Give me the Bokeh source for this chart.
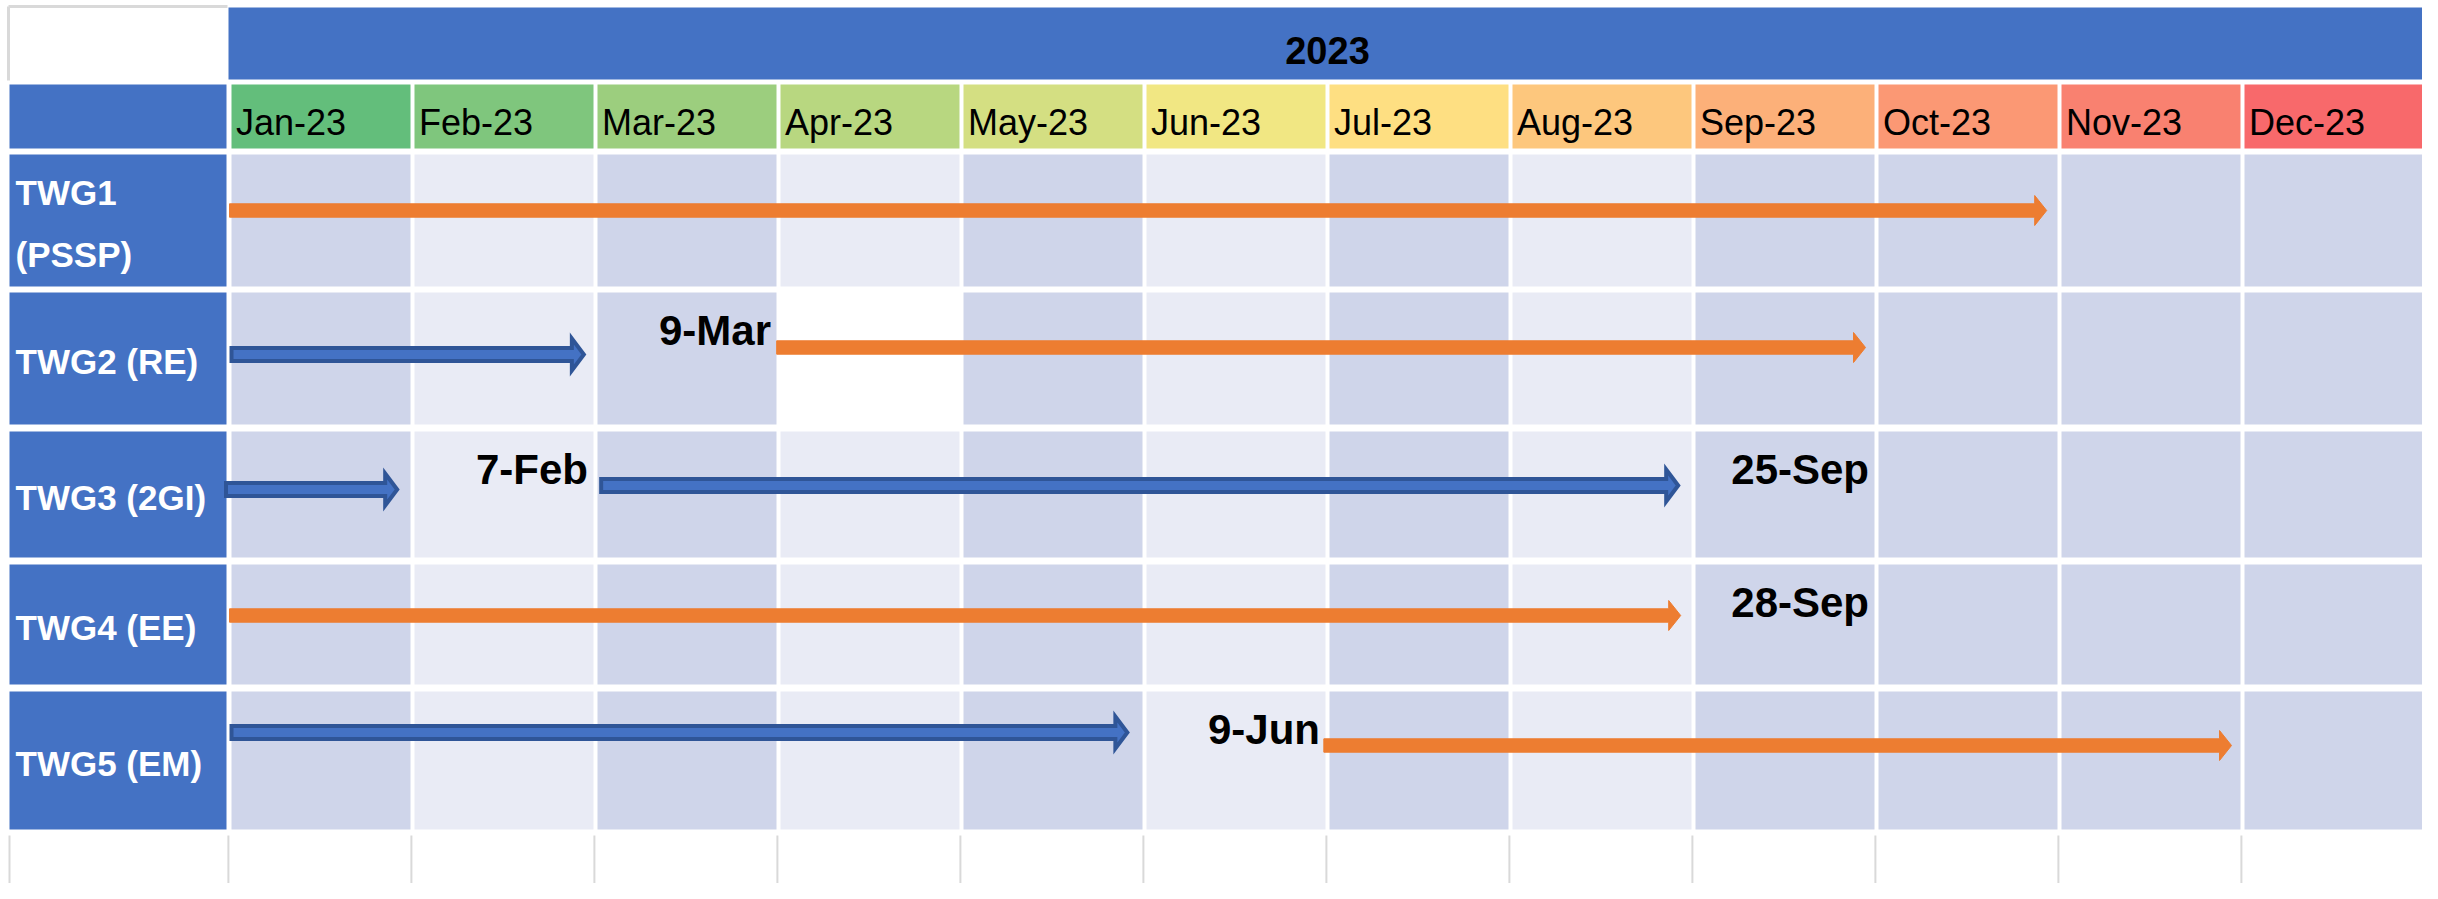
from bokeh.plotting import figure
from bokeh.models import Range1d
from bokeh.core.properties import value
from bokeh.embed import file_html
from bokeh.resources import INLINE

# ---------------- data ----------------
YEAR_LABEL = "2023"
MONTH_LABELS = ["Jan-23", "Feb-23", "Mar-23", "Apr-23", "May-23", "Jun-23",
                "Jul-23", "Aug-23", "Sep-23", "Oct-23", "Nov-23", "Dec-23"]
GROUP_LABELS = ["TWG1\n(PSSP)", "TWG2 (RE)", "TWG3 (2GI)", "TWG4 (EE)", "TWG5 (EM)"]

# arrows, in months from 1 Jan 2023 (0) to 31 Dec 2023 (12)
ARROW_GROUP = [0, 1, 1, 2, 2, 3, 4, 4]
ARROW_START = [0.0, 0.0, 2.99, -0.03, 2.02, 0.0, 0.0, 5.98]
ARROW_END = [9.93, 1.95, 8.94, 0.93, 7.93, 7.93, 4.92, 10.94]
ARROW_KIND = ["orange", "blue", "orange", "blue", "blue", "orange", "blue", "orange"]

# milestone date labels (written in the cell of the given month)
MILESTONE_TEXT = ["9-Mar", "7-Feb", "25-Sep", "28-Sep", "9-Jun"]
MILESTONE_GROUP = [1, 2, 2, 3, 4]
MILESTONE_MONTH = [2, 1, 8, 8, 5]

# ---------------- layout / style ----------------
W, H = 2422, 883
PX0 = 229.0     # picture x where January starts
MW = 183.0      # pixels per month
ROW_TOP = [154, 292, 431, 564, 691]
ROW_BOT = [286, 424, 557, 684, 829]
ARROW_Y = [210, 354, 347, 489, 485, 615, 732, 745]

BLUE = "#4472C4"
DARK_BLUE = "#2F5597"
ORANGE = "#ED7D31"
CELL_DARK = "#CFD5EA"
CELL_LIGHT = "#E9EBF5"
GRID_GRAY = "#D9D9D9"
MONTH_COLORS = ["#63BE7B", "#7FC67D", "#9CCE7E", "#B8D780", "#D4DF82", "#F1E783",
                "#FEDF82", "#FDC77D", "#FCB079", "#FB9874", "#F98170", "#F8696B"]
COL_SHADE = [CELL_DARK, CELL_LIGHT, CELL_DARK, CELL_LIGHT, CELL_DARK, CELL_LIGHT,
             CELL_DARK, CELL_LIGHT, CELL_DARK, CELL_DARK, CELL_DARK, CELL_DARK]
WHITE_CELLS = [(1, 3)]

FONT = value("Liberation Sans")
BASE_FIX = 0.28   # em: shift so that the given y is the visual baseline


def mx(px):
    """picture pixel x -> month coordinate"""
    return (px - PX0) / MW


def by(y, size):
    return y - BASE_FIX * size


p = figure(width=W, height=H, output_backend="svg", toolbar_location=None,
           x_range=Range1d(mx(0), mx(W)), y_range=Range1d(H, 0),
           x_axis_location=None, y_axis_location=None, min_border=0)
p.min_border_left = p.min_border_right = p.min_border_top = p.min_border_bottom = 0
p.grid.visible = False
p.outline_line_color = None
p.background_fill_color = "white"
p.border_fill_color = "white"

# top-left white cell borders
p.segment(x0=[mx(8), mx(8)], y0=[6, 6], x1=[mx(227), mx(8)], y1=[6, 80],
          line_color=GRID_GRAY, line_width=3)

# year band
YS = 38
p.quad(left=[mx(228)], right=[mx(2426)], top=[7], bottom=[79],
       fill_color=BLUE, line_color=None)
p.text(x=[6.0], y=[by(61, YS)], text=[YEAR_LABEL], text_align="center",
       text_baseline="alphabetic", text_font=FONT, text_font_style="bold",
       text_font_size=f"{YS}px", text_color="black")

# month header row
gap = 2.0 / MW
MS = 36
p.quad(left=[mx(9)], right=[mx(226)], top=[84], bottom=[148],
       fill_color=BLUE, line_color=None)
p.quad(left=[i + gap for i in range(12)], right=[i + 1 - gap for i in range(12)],
       top=[84] * 12, bottom=[148] * 12, fill_color=MONTH_COLORS, line_color=None)
p.text(x=[i + 6.5 / MW for i in range(12)], y=[by(132, MS)] * 12, text=MONTH_LABELS,
       text_align="left", text_baseline="alphabetic", text_font=FONT,
       text_font_size=f"{MS}px", text_color="black")

# group label cells
GS = 35
p.quad(left=[mx(9)] * len(GROUP_LABELS), right=[mx(226)] * len(GROUP_LABELS),
       top=ROW_TOP, bottom=ROW_BOT, fill_color=BLUE, line_color=None)
lx, ly, lt = [], [], []
for g, lab in enumerate(GROUP_LABELS):
    lines = lab.split("\n")
    c = (ROW_TOP[g] + ROW_BOT[g]) / 2.0
    for k, line in enumerate(lines):
        lx.append(mx(15))
        ly.append(by(c + 13 - 62 * (len(lines) - 1) / 2.0 + 62 * k, GS))
        lt.append(line)
p.text(x=lx, y=ly, text=lt, text_align="left", text_baseline="alphabetic",
       text_font=FONT, text_font_style="bold", text_font_size=f"{GS}px",
       text_color="white")

# grid cells
cl, cr, ct, cb, cf = [], [], [], [], []
for g in range(len(GROUP_LABELS)):
    for i in range(12):
        cl.append(i + gap)
        cr.append(i + 1 - gap)
        ct.append(ROW_TOP[g])
        cb.append(ROW_BOT[g])
        cf.append("white" if (g, i) in WHITE_CELLS else COL_SHADE[i])
p.quad(left=cl, right=cr, top=ct, bottom=cb, fill_color=cf, line_color=None)

# empty bottom row: light gridlines
gx = [mx(9)] + [i - 0.006 for i in range(13)]
p.segment(x0=gx, y0=[835] * len(gx), x1=gx, y1=[900] * len(gx),
          line_color=GRID_GRAY, line_width=2)

# milestone labels
DS = 42
p.text(x=[m + 1 - 7.5 / MW for m in MILESTONE_MONTH],
       y=[by(ROW_TOP[g] + 50, DS) for g in MILESTONE_GROUP], text=MILESTONE_TEXT,
       text_align="right", text_baseline="alphabetic", text_font=FONT,
       text_font_style="bold", text_font_size=f"{DS}px", text_color="black")


# arrows
def arrow_shape(x0, x1, y, half_shaft, half_head, head_len):
    hl = head_len / MW
    xs = [x0, x1 - hl, x1 - hl, x1, x1 - hl, x1 - hl, x0]
    ys = [y - half_shaft, y - half_shaft, y - half_head, y, y + half_head,
          y + half_shaft, y + half_shaft]
    return xs, ys


o_xs, o_ys, b_xs, b_ys = [], [], [], []
for k in range(len(ARROW_START)):
    if ARROW_KIND[k] == "orange":
        xs, ys = arrow_shape(ARROW_START[k], ARROW_END[k], ARROW_Y[k], 6.7, 15, 12)
        o_xs.append(xs); o_ys.append(ys)
    else:
        xs, ys = arrow_shape(ARROW_START[k] + 2 / MW, ARROW_END[k] - 2.5 / MW,
                             ARROW_Y[k], 6.5, 16, 12)
        b_xs.append(xs); b_ys.append(ys)

p.patches(xs=o_xs, ys=o_ys, fill_color=ORANGE, line_color=ORANGE, line_width=1)
p.patches(xs=b_xs, ys=b_ys, fill_color=BLUE, line_color=DARK_BLUE, line_width=4,
          line_join="miter")

open("out.html", "w").write(file_html(p, INLINE))
